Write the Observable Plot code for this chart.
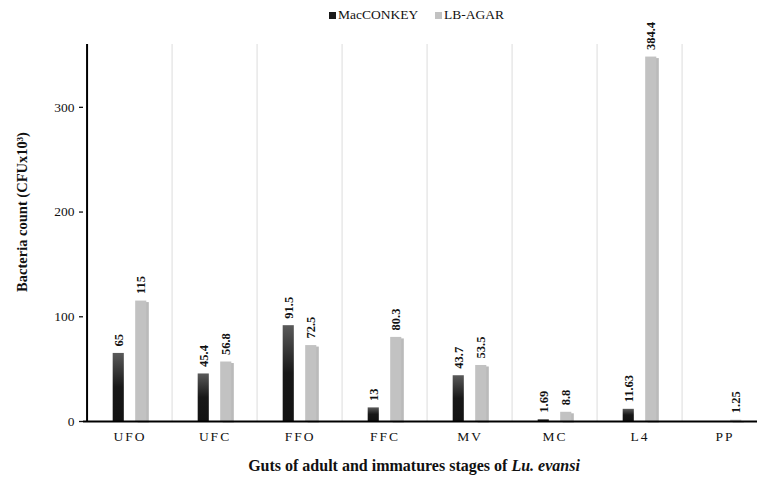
<!DOCTYPE html>
<html><head><meta charset="utf-8">
<script src="https://cdn.jsdelivr.net/npm/d3@7"></script>
<script src="https://cdn.jsdelivr.net/npm/@observablehq/plot@0.6"></script>
<style>
body{margin:0;background:#fff;overflow:hidden;font-family:"Liberation Serif","Times New Roman",serif;}
#legend{height:30px;position:relative;font-size:13.5px;color:#111;z-index:2;}
#legend .item{position:absolute;top:7px;display:flex;align-items:center;white-space:nowrap;}
#legend .sw{width:7px;height:7px;margin-right:2px;display:inline-block;}
#chart svg{overflow:visible;}
</style></head><body>
<div id="legend"></div>
<div id="chart"></div>
<script>
const categories = ["UFO","UFC","FFO","FFC","MV","MC","L4","PP"];
const series = ["MacCONKEY","LB-AGAR"];
const seriesColors = ["#1a1a1a","#c2c2c2"];
const macValues = [65,45.4,91.5,13,43.7,1.69,11.63,0];
const macLabels = ["65","45.4","91.5","13","43.7","1.69","11.63",""];
// L4 LB-AGAR bar is drawn cut off at ~348 in the picture although labelled 384.4
const lbValues = [115,56.8,72.5,80.3,53.5,8.8,348,1.25];
const lbLabels = ["115","56.8","72.5","80.3","53.5","8.8","384.4","1.25"];
const yTicks = [0,100,200,300];
const yLabel = "Bacteria count (CFUx10³)";
const xLabelMain = "Guts of adult and immatures stages of ";
const xLabelItalic = "Lu. evansi";

const mac = categories.map((c,i)=>({cat:c, value:macValues[i], label:macLabels[i]}));
const lb = categories.map((c,i)=>({cat:c, value:lbValues[i], label:lbLabels[i]}));

const W = 757, H = 450;
const marginLeft = 83, marginRight = -13, marginTop = 14, marginBottom = 59;
const bandW = (W - marginRight - marginLeft) / categories.length;
const barW = 12;
const inset = (bandW - barW) / 2;
const off = 11.25;

const serif = "Liberation Serif, Times New Roman, serif";

const svg = Plot.plot({
  width: W, height: H,
  marginLeft, marginRight, marginTop, marginBottom,
  style: {fontFamily: serif, fontSize: "13.5px", color: "#111", background: "transparent", overflow: "visible"},
  x: {domain: categories, padding: 0, axis: null, label: null},
  y: {domain: [0, 360], axis: null, label: null},
  marks: [
    Plot.ruleX(categories.slice(1), {x: d=>d, dx: -bandW/2, stroke: "#dcdcdc", strokeWidth: 1}),
    Plot.axisY(yTicks, {tickSize: 4, tickPadding: 5, fontSize: 13.5, stroke: "#111", strokeWidth: 1.3, label: null}),
    Plot.axisX({tickSize: 0, tickPadding: 10, fontSize: 13.5, label: null}),
    // shadow of the light bars
    Plot.barY(lb, {x: "cat", y: "value", dx: off + 2.5, dy: 1.5, insetLeft: inset, insetRight: inset, fill: "#9c9c9c", fillOpacity: 0.7}),
    Plot.barY(mac, {x: "cat", y: "value", dx: -off, insetLeft: inset, insetRight: inset, fill: "url(#macGrad)"}),
    Plot.barY(lb, {x: "cat", y: "value", dx: off, insetLeft: inset, insetRight: inset, fill: seriesColors[1]}),
    Plot.text(mac, {x: "cat", y: "value", text: "label", dx: -off, dy: -7, rotate: -90, textAnchor: "start", fontWeight: "bold", fontSize: 12.5, fill: "#111"}),
    Plot.text(lb, {x: "cat", y: "value", text: "label", dx: off, dy: -7, rotate: -90, textAnchor: "start", fontWeight: "bold", fontSize: 12.5, fill: "#111"}),
    Plot.ruleY([0], {stroke: "#000", strokeWidth: 2}),
    Plot.ruleX([categories[0]], {x: d=>d, dx: -bandW/2, stroke: "#000", strokeWidth: 2}),
    Plot.text([yLabel], {frameAnchor: "left", textAnchor: "middle", rotate: -90, dx: -61, dy: -21, fontWeight: "bold", fontSize: 14.5, fill: "#111"})
  ]
});

const s = d3.select(svg);
const defs = s.insert("defs", ":first-child");
const g = defs.append("linearGradient").attr("id","macGrad").attr("x1",0).attr("y1",0).attr("x2",0).attr("y2",1);
g.append("stop").attr("offset","0%").attr("stop-color","#5a5a5a");
g.append("stop").attr("offset","50%").attr("stop-color","#181818");
g.append("stop").attr("offset","100%").attr("stop-color","#121212");

s.selectAll('g[aria-label="x-axis tick label"] text').style("letter-spacing","2px");

const xl = s.append("text").attr("x", 414).attr("y", 441).attr("text-anchor","middle")
  .attr("font-family", serif).attr("font-weight","bold").attr("font-size", 16).attr("fill","#111");
xl.append("tspan").text(xLabelMain);
xl.append("tspan").attr("font-style","italic").text(xLabelItalic);

document.getElementById("chart").appendChild(svg);

const legend = d3.select("#legend");
const lefts = [329, 435];
series.forEach((name, i) => {
  const it = legend.append("div").attr("class","item").style("left", lefts[i] + "px");
  it.append("span").attr("class","sw").style("background", seriesColors[i]);
  it.append("span").text(name);
});
</script>
</body></html>
